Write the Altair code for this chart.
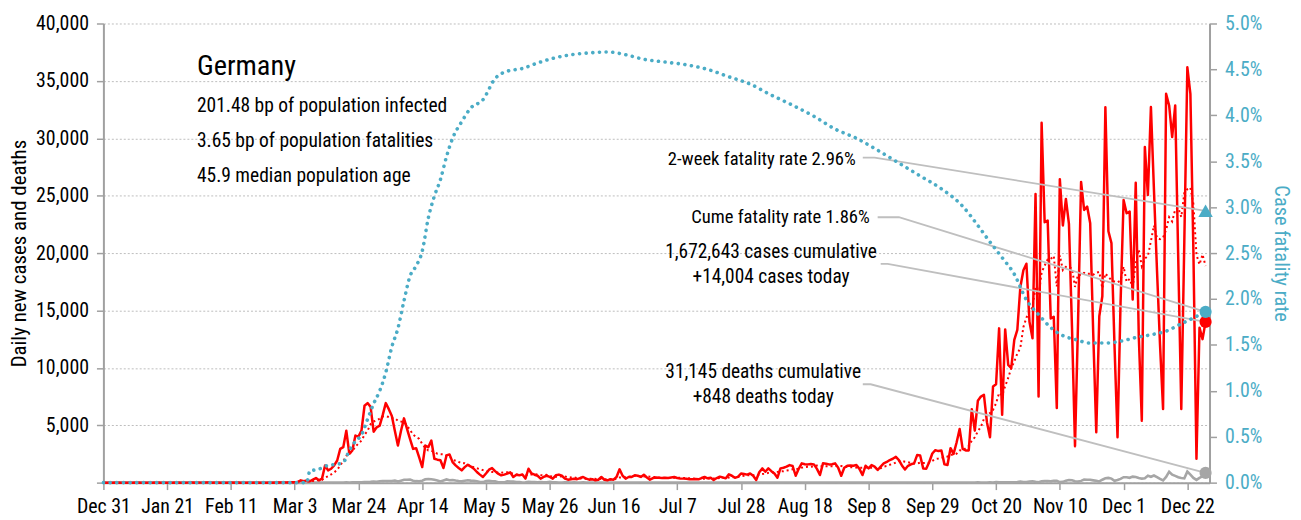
import altair as alt
import pandas as pd

# ---------------- data ----------------
# day index 0 = Dec 31 2019; one value per day up to Dec 28 2020 (index 363)
cases_dec_jan = [0, 0, 0, 0, 0, 0, 0, 0, 0, 0, 0, 0, 0, 0, 0, 0,
                 0, 0, 0, 0, 0, 0, 0, 0, 0, 0, 0, 0, 1, 3, 0, 1]
cases_feb = [1, 0, 2, 2, 0, 1, 0, 0, 0, 0, 2, 0, 2, 0, 0,
             0, 0, 0, 0, 0, 0, 0, 0, 0, 0, 2, 6, 10, 14]
cases_mar = [19, 30, 28, 60, 200, 130, 200, 120, 260, 400, 200, 350, 1500, 1070,
             1210, 1500, 1930, 2940, 3090, 4530, 2510, 2800, 4100, 4010, 4530,
             6700, 6930, 6600, 4440, 4820, 4960]
cases_apr = [5900, 6930, 6400, 5800, 4500, 3230, 4500, 5600, 4680, 3800, 2940,
             3000, 2200, 1360, 3230, 3090, 3670, 2080, 2000, 1950, 1270, 2370,
             2460, 1790, 1500, 1270, 1070, 1350, 1560, 1400]
cases_may = [1210, 925, 700, 490, 800, 1130, 1270, 1000, 780, 640, 700, 780, 900,
             490, 690, 650, 700, 350, 1210, 800, 690, 600, 350, 500, 600, 500,
             350, 640, 700, 600, 350]
cases_jun = [260, 300, 330, 300, 400, 490, 350, 260, 300, 200, 250, 490, 250, 200,
             300, 260, 490, 1160, 600, 350, 490, 500, 640, 600, 500, 690, 450,
             260, 400, 450]
cases_jul = [420, 400, 430, 400, 450, 490, 400, 350, 350, 330, 290, 300, 320, 290,
             400, 490, 380, 430, 230, 400, 520, 450, 375, 720, 600, 430, 500, 800,
             750, 700, 800]
cases_aug = [600, 230, 900, 1240, 950, 1240, 1000, 800, 430, 1240, 1300, 1390, 1530,
             1450, 600, 1200, 1680, 1600, 1590, 1620, 1590, 1200, 660, 1680, 1650,
             1590, 1600, 1680, 1300, 600, 1300]
cases_sep = [1470, 1500, 1470, 1530, 1200, 660, 1470, 1240, 1530, 1400, 1100, 1400,
             1680, 1800, 1970, 2080, 2250, 1970, 1500, 1150, 1470, 1600, 1680, 2400,
             2370, 1240, 1210, 1800, 2540, 2830]
cases_oct = [2750, 2800, 1590, 1530, 3000, 2510, 3500, 4680, 2940, 2800, 2800, 6400,
             4530, 7130, 7500, 7650, 5250, 3950, 8370, 8570, 13440, 5920, 13350,
             10260, 9970, 12430, 13300, 17050, 18500, 19070, 14020]
cases_nov = [12570, 25150, 7510, 31360, 22690, 22830, 14300, 14450, 6500, 26440,
             22400, 24710, 22540, 13580, 3180, 14000, 26200, 23760, 24050, 22600,
             13000, 4390, 14500, 16240, 32700, 21900, 20870, 12000, 3960, 15660]
cases_dec = [24620, 23470, 23610, 15950, 26130, 12770, 5400, 29250, 25060, 32720,
             25500, 18500, 12000, 6420, 33870, 32860, 30110, 32860, 19500, 6420,
             21000, 36180, 33870, 20000, 2080, 13500, 12500, 14004]

deaths_dec_jan = [0, 0, 0, 0, 0, 0, 0, 0, 0, 0, 0, 0, 0, 0, 0, 0,
                  0, 0, 0, 0, 0, 0, 0, 0, 0, 0, 0, 0, 0, 0, 0, 0]
deaths_feb = [0, 0, 0, 0, 0, 0, 0, 0, 0, 0, 0, 0, 0, 0, 0,
              0, 0, 0, 0, 0, 0, 0, 0, 0, 0, 0, 0, 0, 0]
deaths_mar = [0, 0, 0, 0, 0, 0, 0, 0, 2, 0, 1, 3, 2, 1, 4, 5, 8, 7, 10, 24, 16, 24,
              29, 37, 33, 49, 61, 66, 105, 71, 128]
deaths_apr = [149, 140, 145, 141, 184, 92, 173, 254, 246, 266, 171, 129, 126, 170,
              285, 315, 299, 242, 184, 110, 194, 281, 215, 227, 179, 140, 110, 163,
              202, 173]
deaths_may = [156, 113, 54, 43, 139, 165, 123, 118, 26, 33, 25, 116, 101, 89, 57, 62,
              15, 38, 83, 44, 57, 35, 42, 31, 39, 74, 29, 39, 10, 11, 31]
deaths_jun = [30, 18, 29, 9, 6, 26, 12, 16, 14, 5, 3, 10, 15, 12, 10, 3, 3, 9, 10, 6,
              14, 4, 3, 0, 10, 11, 6, 7, 4, 2]
deaths_jul = [8, 7, 3, 5, 3, 4, 2, 4, 6, 5, 11, 1, 0, 5, 2, 4, 10, 3, 5, 1, 0, 7, 5, 9,
              2, 8, 6, 1, 1, 7, 5]
deaths_aug = [4, 6, 2, 8, 4, 9, 7, 9, 3, 2, 4, 5, 1, 5, 6, 7, 2, 3, 0, 4, 7, 4, 9, 1,
              1, 5, 5, 6, 4, 1, 3]
deaths_sep = [3, 5, 9, 2, 6, 2, 3, 5, 11, 8, 6, 4, 1, 0, 4, 13, 9, 2, 1, 3, 7, 10, 11,
              8, 8, 12, 4, 10, 14, 13]
deaths_oct = [12, 6, 2, 9, 13, 6, 9, 13, 12, 11, 3, 7, 6, 24, 12, 11, 6, 20, 13, 48,
              31, 32, 40, 39, 20, 30, 49, 85, 48, 62, 104]
deaths_nov = [118, 66, 36, 124, 148, 144, 128, 159, 163, 45, 65, 174, 235, 213, 129,
              88, 153, 264, 254, 245, 199, 158, 103, 255, 375, 410, 351, 158, 225, 327]
deaths_dec = [473, 476, 420, 522, 496, 406, 348, 390, 597, 512, 622, 487, 321, 188,
              500, 952, 698, 594, 472, 412, 379, 962, 698, 410, 240, 420, 550, 848]

# cumulative case fatality rate (%), sampled along the dotted curve
cfr_day = [0, 67, 68, 70, 72, 74, 77, 79, 81, 83, 85, 87, 89, 91, 93, 95, 97, 99,
           101, 103, 105, 107, 109, 111, 113, 115, 118, 121, 125, 129, 133, 138,
           143, 148, 154, 160, 166, 172, 178, 185, 192, 199, 206, 213, 220, 227,
           234, 241, 248, 255, 262, 269, 276, 283, 288, 292, 296, 300, 304, 308,
           312, 316, 320, 325, 330, 335, 340, 345, 350, 355, 360, 363]
cfr_pct = [0, 0, 0.13, 0.14, 0.16, 0.19, 0.20, 0.22, 0.35, 0.45, 0.52, 0.69, 0.86,
           1.00, 1.20, 1.48, 1.68, 1.98, 2.25, 2.36, 2.52, 2.88, 3.12, 3.30, 3.55,
           3.75, 3.93, 4.08, 4.17, 4.40, 4.48, 4.51, 4.57, 4.62, 4.66, 4.68, 4.69,
           4.66, 4.61, 4.58, 4.55, 4.50, 4.42, 4.34, 4.22, 4.11, 3.99, 3.85, 3.75,
           3.62, 3.48, 3.34, 3.20, 3.01, 2.80, 2.62, 2.45, 2.27, 1.99, 1.83, 1.69,
           1.60, 1.56, 1.52, 1.52, 1.54, 1.58, 1.61, 1.65, 1.73, 1.81, 1.86]
two_week_rate = 2.96

tick_days = [0, 21, 42, 63, 84, 105, 126, 147, 168, 189, 210, 231, 252, 273, 294,
             315, 336, 357]
tick_labels = ["Dec 31", "Jan 21", "Feb 11", "Mar 3", "Mar 24", "Apr 14", "May 5",
               "May 26", "Jun 16", "Jul 7", "Jul 28", "Aug 18", "Sep 8", "Sep 29",
               "Oct 20", "Nov 10", "Dec 1", "Dec 22"]

header_lines = ["201.48 bp of population infected",
                "3.65 bp of population fatalities",
                "45.9 median population age"]

# ---------------- tables ----------------
cases = (cases_dec_jan + cases_feb + cases_mar + cases_apr + cases_may + cases_jun +
         cases_jul + cases_aug + cases_sep + cases_oct + cases_nov + cases_dec)
deaths = (deaths_dec_jan + deaths_feb + deaths_mar + deaths_apr + deaths_may +
          deaths_jun + deaths_jul + deaths_aug + deaths_sep + deaths_oct +
          deaths_nov + deaths_dec)
days = list(range(len(cases)))
last = days[-1]

df = pd.DataFrame({"day": days, "cases": cases, "deaths": deaths})
cfr_df = pd.DataFrame({"day": cfr_day, "pct": cfr_pct})

FONT = "Liberation Sans Narrow, Roboto Condensed, DejaVu Sans Condensed, sans-serif"
RED = "#FF0000"
CYAN = "#4BACC6"
GREY = "#A6A6A6"
AXIS_GREY = "#A0A0A0"

YMAX = 40000
RMAX = 5.0
xscale = alt.Scale(domain=[0, 364.3], nice=False, zero=False)
yscale = alt.Scale(domain=[0, YMAX], nice=False)
rscale = alt.Scale(domain=[0, RMAX], nice=False)

label_expr = "[" + ",".join("'%s'" % t for t in tick_labels) + "][round(datum.value/21)]"

x_axis = alt.Axis(values=tick_days, labelExpr=label_expr, title=None, grid=False,
                  domainColor=AXIS_GREY, domainWidth=2, tickColor=AXIS_GREY,
                  tickWidth=1.5, tickSize=7, labelFont=FONT, labelFontSize=20,
                  labelColor="#000000", labelPadding=7, labelFlush=False,
                  labelOverlap=False)
y_axis = alt.Axis(values=list(range(0, YMAX + 1, 5000)),
                  labelExpr="datum.value == 0 ? '' : format(datum.value, ',')",
                  title="Daily new cases and deaths", titleFont=FONT,
                  titleFontSize=21, titleFontWeight="normal", titleColor="#000000",
                  titlePadding=6, grid=True, gridColor="#BDBDBD", gridDash=[2, 2],
                  gridWidth=1, domainColor=AXIS_GREY, domainWidth=2,
                  tickColor=AXIS_GREY, tickWidth=1.5, tickSize=7, labelFont=FONT,
                  labelFontSize=20, labelColor="#000000", labelPadding=8)
r_axis = alt.Axis(orient="right", values=[i * 0.5 for i in range(11)],
                  labelExpr="format(datum.value, '.1f') + '%'",
                  title="Case fatality rate", titleFont=FONT, titleFontSize=20.5,
                  titleFontWeight="normal", titleColor=CYAN, titlePadding=9,
                  grid=False, domainColor=AXIS_GREY, domainWidth=2,
                  tickColor=AXIS_GREY, tickWidth=1.5, tickSize=7, labelFont=FONT,
                  labelFontSize=20, labelColor=CYAN, labelPadding=8)


def X():
    return alt.X("day:Q", scale=xscale, axis=x_axis)


def Y(field):
    return alt.Y(field, type="quantitative", scale=yscale, axis=y_axis)


def R(field):
    return alt.Y(field, type="quantitative", scale=rscale, axis=r_axis)


base = alt.Chart(df)

deaths_line = base.mark_line(color=GREY, strokeWidth=2.6).encode(
    x=X(), y=Y("deaths"))
cases_line = base.mark_line(color=RED, strokeWidth=2.5, strokeJoin="round").encode(
    x=X(), y=Y("cases"))
avg_line = base.transform_window(
    avg="mean(cases)", frame=[-6, 0], sort=[alt.SortField("day")]
).mark_line(color=RED, strokeWidth=2, strokeDash=[2, 3]).encode(x=X(), y=Y("avg"))

# ---- annotations (positions in data units: day, cases) ----
pct_to_cases = YMAX / RMAX
leader_df = pd.DataFrame({
    "id": [1, 1, 1, 2, 2, 2, 3, 3, 3, 4, 4, 4],
    "o": [0, 1, 2] * 4,
    "day": [250.1, 254.0, last, 255.0, 262.0, last, 256.0, 258.3, last,
            250.1, 252.7, last],
    "val": [28310, 28310, two_week_rate * pct_to_cases,
            23120, 23120, cfr_pct[-1] * pct_to_cases,
            19050, 19050, cases[-1],
            8570, 8570, deaths[-1]],
})
leaders = alt.Chart(leader_df).mark_line(color="#BFBFBF", strokeWidth=1.8).encode(
    x=X(), y=Y("val"), detail="id:N", order="o:Q")

right_text_df = pd.DataFrame({
    "day": [247.8, 252.4],
    "val": [28225, 23117],
    "t": ["2-week fatality rate %.2f%%" % two_week_rate,
          "Cume fatality rate %.2f%%" % cfr_pct[-1]],
})
right_texts = alt.Chart(right_text_df).mark_text(
    align="right", baseline="middle", font=FONT, fontSize=18.7, color="#000000"
).encode(x=X(), y=Y("val"), text="t:N")

center_text_df = pd.DataFrame({
    "day": [219.9, 219.9, 217.3, 217.3],
    "val": [20087, 17922, 9610, 7446],
    "t": ["{:,} cases cumulative".format(1672643),
          "+{:,} cases today".format(cases[-1]),
          "{:,} deaths cumulative".format(31145),
          "+{:,} deaths today".format(deaths[-1])],
})
center_texts = alt.Chart(center_text_df).mark_text(
    align="center", baseline="middle", font=FONT, fontSize=19.5, color="#000000"
).encode(x=X(), y=Y("val"), text="t:N")

title_df = pd.DataFrame({"day": [30.8], "val": [36277], "t": ["Germany"]})
title_text = alt.Chart(title_df).mark_text(
    align="left", baseline="middle", font=FONT, fontSize=28.5, color="#000000"
).encode(x=X(), y=Y("val"), text="t:N")

header_df = pd.DataFrame({"day": [30.8, 30.8, 30.8], "val": [32814, 29784, 26754],
                          "t": header_lines})
header_text = alt.Chart(header_df).mark_text(
    align="left", baseline="middle", font=FONT, fontSize=19.6, color="#000000"
).encode(x=X(), y=Y("val"), text="t:N")

left_marker_df = pd.DataFrame({"day": [last, last], "val": [cases[-1], deaths[-1]],
                               "c": [RED, GREY]})
left_markers = alt.Chart(left_marker_df).mark_point(
    filled=True, size=150, opacity=1, shape="circle"
).encode(x=X(), y=Y("val"), color=alt.Color("c:N", scale=None))

left = alt.layer(deaths_line, cases_line, avg_line, leaders, left_markers,
                 right_texts, center_texts, title_text, header_text)

cfr_line = alt.Chart(cfr_df).mark_line(
    color=CYAN, strokeWidth=3.6, strokeDash=[0.1, 6.6], strokeCap="round",
    interpolate="monotone"
).encode(x=X(), y=R("pct"))

right_marker_df = pd.DataFrame({"day": [last, last],
                                "pct": [two_week_rate, cfr_pct[-1]],
                                "s": ["triangle-up", "circle"],
                                "sz": [210, 150]})
right_markers = alt.Chart(right_marker_df).mark_point(
    filled=True, opacity=1, color=CYAN
).encode(x=X(), y=R("pct"), shape=alt.Shape("s:N", scale=None),
         size=alt.Size("sz:Q", scale=None))

right = alt.layer(cfr_line, right_markers)

chart = alt.layer(left, right).resolve_scale(y="independent").properties(
    width=1113, height=462,
    autosize=alt.AutoSizeParams(type="none"),
    padding={"left": 96, "top": 14, "right": 84, "bottom": 36},
    background="white",
).configure_view(stroke=None)

chart.save("out.html", embed_options={"renderer": "svg", "actions": False})
